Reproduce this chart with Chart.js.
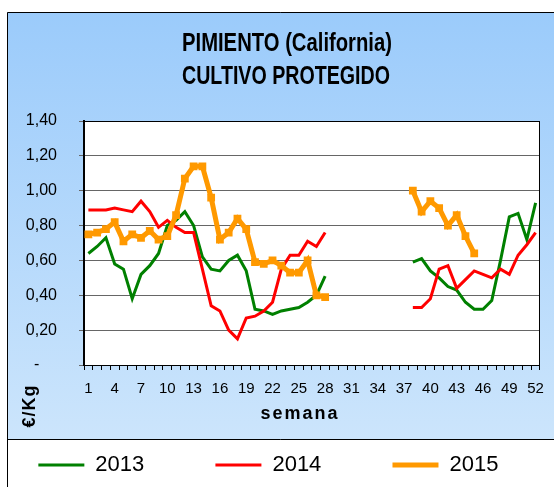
<!DOCTYPE html>
<html>
<head>
<meta charset="utf-8">
<script src="https://cdn.jsdelivr.net/npm/chart.js@4.4.1/dist/chart.umd.min.js"></script>
<style>
  html, body { margin: 0; padding: 0; background: #fff; }
  #wrap { width: 554px; height: 487px; }
</style>
</head>
<body>
<div id="wrap"><canvas id="chart" width="554" height="487"></canvas></div>
<script>
const weeks = ['1','2','3','4','5','6','7','8','9','10','11','12','13','14','15','16','17','18','19','20',
  '21','22','23','24','25','26','27','28','29','30','31','32','33','34','35','36','37','38','39','40',
  '41','42','43','44','45','46','47','48','49','50','51','52'];

// €/Kg por semana, null = sin cotización
const y2013 = [0.64,0.68,0.73,0.58,0.55,0.38,0.52,0.57,0.64,0.80,0.83,0.88,0.80,0.62,0.55,0.54,0.60,0.63,0.54,0.32,
  0.31,0.29,0.31,0.32,0.33,0.36,0.40,0.51,null,null,null,null,null,null,null,null,null,0.59,0.61,0.54,
  0.50,0.45,0.43,0.36,0.32,0.32,0.37,0.60,0.85,0.87,0.72,0.93];
const y2014 = [0.89,0.89,0.89,0.90,0.89,0.88,0.94,0.88,0.79,0.83,0.79,0.76,0.76,0.55,0.34,0.31,0.20,0.15,0.27,0.28,
  0.31,0.36,0.55,0.63,0.63,0.71,0.68,0.76,null,null,null,null,null,null,null,null,null,0.33,0.33,0.38,
  0.55,0.57,0.44,0.49,0.54,0.52,0.50,0.55,0.52,0.63,0.69,0.76];
const y2015 = [0.75,0.76,0.78,0.82,0.71,0.75,0.73,0.77,0.72,0.74,0.86,1.07,1.14,1.14,0.96,0.72,0.76,0.84,0.78,0.59,
  0.58,0.60,0.57,0.53,0.53,0.60,0.40,0.39,null,null,null,null,null,null,null,null,null,1.00,0.88,0.94,
  0.90,0.80,0.86,0.74,0.64,null,null,null,null,null,null,null];

const SANS = "'Liberation Sans', Arial, sans-serif";

// condensed text, the original uses Arial Narrow
function narrowText(ctx, text, x, y, width) {
  const w = ctx.measureText(text).width;
  ctx.save();
  ctx.translate(x, y);
  ctx.scale(width / w, 1);
  ctx.fillText(text, 0, 0);
  ctx.restore();
}

const frame = {
  id: 'frame',
  beforeDraw(chart) {
    const {ctx, chartArea: a} = chart;
    ctx.save();
    ctx.fillStyle = '#fff';
    ctx.fillRect(0, 0, chart.width, chart.height);
    const g = ctx.createLinearGradient(0, 12, 0, 439);
    g.addColorStop(0, '#9bcbfb');
    g.addColorStop(1, '#cce5fc');
    ctx.fillStyle = g;
    ctx.fillRect(7, 12, chart.width - 7, 427);
    ctx.strokeStyle = '#000';
    ctx.lineWidth = 1;
    ctx.beginPath();
    ctx.moveTo(7.5, chart.height);
    ctx.lineTo(7.5, 12.5);
    ctx.lineTo(chart.width, 12.5);
    ctx.moveTo(7.5, 439.5);
    ctx.lineTo(chart.width, 439.5);
    ctx.stroke();
    ctx.fillStyle = '#fff';
    ctx.fillRect(a.left, a.top, a.right - a.left, a.bottom - a.top);

    ctx.fillStyle = '#000';
    ctx.textAlign = 'center';
    ctx.textBaseline = 'middle';
    ctx.font = 'bold 25px ' + SANS;
    narrowText(ctx, 'PIMIENTO (California)', 287, 44, 210);
    narrowText(ctx, 'CULTIVO PROTEGIDO', 286, 77, 208);

    ctx.font = 'bold 18px ' + SANS;
    ctx.letterSpacing = '2px';
    ctx.fillText('semana', 300, 414);

    ctx.translate(30, 406);
    ctx.rotate(-Math.PI / 2);
    ctx.letterSpacing = '1px';
    ctx.fillText('€/Kg', 0, 0);
    ctx.restore();
  },
  beforeDatasetsDraw(chart) {
    const {ctx, chartArea: a} = chart;
    ctx.save();
    ctx.strokeStyle = '#000';
    ctx.lineWidth = 1;
    ctx.strokeRect(a.left + 0.5, a.top + 0.5, a.right - a.left - 1, a.bottom - a.top);
    ctx.restore();
  }
};

// trailing blanks spread the legend entries like the original
const legendPad = ['          ', '          ', '  '];

new Chart(document.getElementById('chart'), {
  type: 'line',
  plugins: [frame],
  data: {
    labels: weeks,
    datasets: [
      { label: '2013', data: y2013, borderColor: '#008000', backgroundColor: '#008000',
        borderWidth: 3, pointRadius: 0, order: 2 },
      { label: '2014', data: y2014, borderColor: '#ff0000', backgroundColor: '#ff0000',
        borderWidth: 3, pointRadius: 0, order: 1 },
      { label: '2015', data: y2015, borderColor: '#ff9900', backgroundColor: '#ff9900',
        borderWidth: 5, pointRadius: 5.5, pointStyle: 'rect', pointBorderWidth: 0, order: 0 }
    ]
  },
  options: {
    responsive: false,
    animation: false,
    spanGaps: false,
    layout: { padding: { top: 121, left: 0, right: 5, bottom: 1 } },
    elements: { line: { tension: 0 } },
    plugins: {
      title: { display: false },
      tooltip: { enabled: false },
      legend: {
        position: 'bottom',
        labels: {
          usePointStyle: true,
          pointStyle: 'line',
          pointStyleWidth: 46,
          padding: 10,
          color: '#000',
          font: { family: SANS, size: 22 },
          sort: (a, b) => a.datasetIndex - b.datasetIndex,
          generateLabels(chart) {
            const items = Chart.defaults.plugins.legend.labels.generateLabels(chart);
            items.forEach(it => {
              const ds = chart.data.datasets[it.datasetIndex];
              it.text = it.text + legendPad[it.datasetIndex];
              it.lineWidth = ds.borderWidth;
              it.strokeStyle = ds.borderColor;
            });
            return items;
          }
        }
      }
    },
    scales: {
      x: {
        offset: true,
        afterFit(s) { s.height = 79; },
        grid: { drawOnChartArea: false, drawTicks: true, tickLength: 5, color: '#000', offset: true },
        border: { display: true, color: '#000', width: 1 },
        ticks: {
          autoSkip: false, maxRotation: 0, padding: 10, color: '#000',
          font: { family: SANS, size: 15 },
          callback(v, i) { return i % 3 === 0 ? this.getLabelForValue(v) : ''; }
        }
      },
      y: {
        min: 0, max: 1.4,
        afterFit(s) { s.width = 84; },
        grid: { color: '#666', tickLength: 5, drawTicks: true },
        border: { display: true, color: '#000', width: 2 },
        ticks: {
          stepSize: 0.2, padding: 22, color: '#000',
          font: { family: SANS, size: 16 },
          callback(v) { return v === 0 ? '-    ' : v.toFixed(2).replace('.', ','); }
        }
      }
    }
  }
});
</script>
</body>
</html>
